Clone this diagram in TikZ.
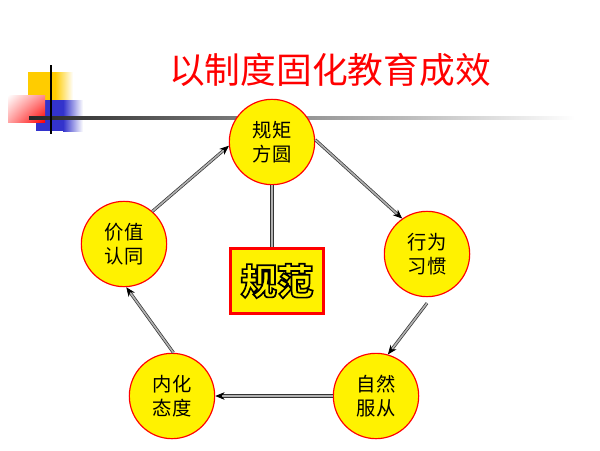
\documentclass[tikz,border=0pt]{standalone}
\usepackage{fontspec}
\setmainfont{Noto Sans CJK SC}
\usetikzlibrary{shadings,arrows.meta}
\definecolor{vangcam}{HTML}{FFCC00}
\definecolor{xanhlam}{HTML}{3333CC}
\begin{document}
\begin{tikzpicture}[>={Stealth[length=8pt,width=6.5pt,black]},x=0.03cm,y=-0.03cm,
	vong/.style={circle,draw=red,line width=1pt,fill=yellow,minimum size=2.56cm,inner sep=0pt,align=center,font=\fontsize{16.5}{20.5}\selectfont},
	duong/.style={draw=black!80,double=gray!60,double distance=1.4pt,line width=0.6pt},
	muiten/.style={->,duong}]
	\useasboundingbox (0,0) rectangle (600,450);
	% trang tri goc trai
	\fill[vangcam] (28,72) rectangle (55,100);
	\shade[left color=vangcam,right color=white] (55,72) rectangle (73,100);
	\fill[xanhlam] (36,100) rectangle (63,131);
	\shade[left color=xanhlam,right color=white] (63,100) rectangle (83,131);
	\shade[upper left=white,upper right=red!45,lower left=red!35,lower right=red] (8,95) rectangle (45,122);
	\shade[left color=black!85,right color=white] (29,116.8) rectangle (575,119.2);
	\draw[line width=2pt] (51,65) -- (51,134);
	% tieu de
	\node[text=red,font=\fontsize{30.5}{34}\selectfont] (tieude) at (330,70) {以制度固化教育成效};
	% cac vong
	\node[vong] (quyju) at (272,142) {规矩\\方圆};
	\node[vong] (xingwei) at (427,254) {行为\\习惯};
	\node[vong] (ziran) at (376,396) {自然\\服从};
	\node[vong] (neihua) at (172,396) {内化\\态度};
	\node[vong] (jiazhi) at (124,244) {价值\\认同};
	\node[draw=red,line width=2.5pt,fill=yellow,minimum width=2.8cm,minimum height=1.95cm,inner sep=0pt] (guifan) at (277,281)
		{\color{yellow}\bfseries\fontsize{31}{33}\selectfont\special{pdf:literal 2 Tr 0 0 0 RG 1.4 w}规范\special{pdf:literal 0 Tr}};
	\draw[duong] (quyju.south) -- (quyju.south |- guifan.north);
	% mui ten
	\draw[muiten] (jiazhi.49) -- (quyju.185);
	\draw[muiten] (quyju.3) -- (xingwei.125);
	\draw[muiten] ([yshift=-5]xingwei.270) -- (ziran.74);
	\draw[muiten] (ziran) -- (neihua);
	\draw[muiten] (neihua.88) -- (jiazhi.273);
\end{tikzpicture}
\end{document}
